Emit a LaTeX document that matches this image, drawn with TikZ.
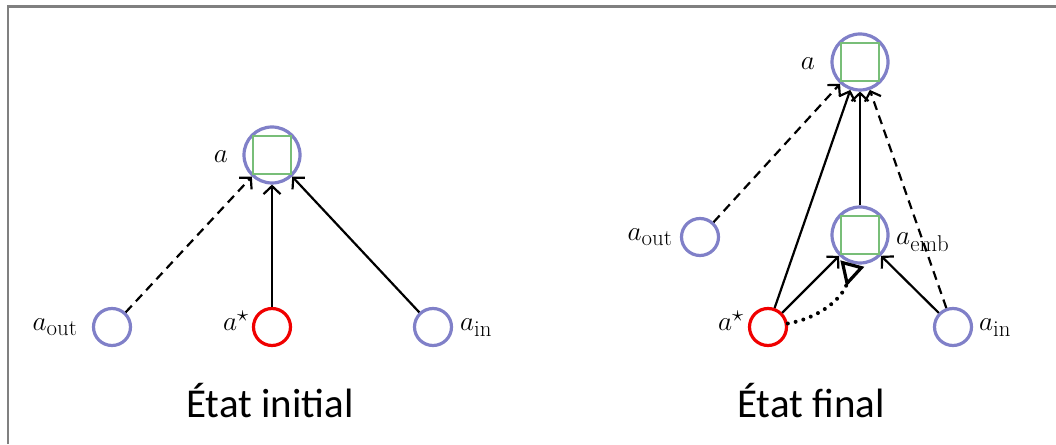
\documentclass[tikz,border=0pt]{standalone}
\usepackage{fontspec}
\usetikzlibrary{arrows.meta}
\newfontfamily\capfont{Carlito}
\definecolor{nodeblue}{RGB}{128,128,200}
\definecolor{sqgreen}{RGB}{120,190,120}
\definecolor{framegray}{RGB}{128,128,128}
\definecolor{nodered}{RGB}{240,0,0}
\newcommand{\bigmath}[1]{\scalebox{1.1}{$#1$}}
\begin{document}
\begin{tikzpicture}[x=1pt,y=1pt,
  bignode/.style={circle,draw=nodeblue,line width=3.2pt,minimum size=56pt,inner sep=0pt},
  sqnode/.style={rectangle,draw=sqgreen,line width=2.6pt,minimum size=38pt,inner sep=0pt},
  smallnode/.style={circle,draw=nodeblue,line width=3.2pt,minimum size=37pt,inner sep=0pt},
  rednode/.style={circle,draw=nodered,line width=3.2pt,minimum size=37pt,inner sep=0pt},
  lbl/.style={anchor=base,inner sep=0pt,font=\fontsize{24.88}{30}\selectfont},
  captext/.style={anchor=base,inner sep=0pt,font=\capfont\fontsize{41}{48}\selectfont},
  arr/.style={line width=2.2pt,-{Straight Barb[length=8pt,width=17pt,line width=2.2pt]}},
  dasharr/.style={arr,dash pattern=on 9pt off 6pt},
  dotarr/.style={line width=4pt,line cap=round,dash pattern=on 0pt off 8pt,
    -{Triangle[open,reversed,length=24pt,width=24pt,line width=3.2pt]}},
  frameline/.style={draw=framegray,line width=2.5pt}
]
\useasboundingbox (0,0) rectangle (1056,444);
\draw[frameline] (8,0) -- (8,437.5) -- (1056,437.5);

% ---- left: initial state
\node[bignode] (aL) at (272,289) {};
\node[sqnode] (sqL) at (272,289) {};
\node[smallnode] (aoutL) at (112,117) {};
\node[rednode] (astarL) at (272,117) {};
\node[smallnode] (ainL) at (433,117) {};
\node[lbl] (laL) at (221,281) {\bigmath{a}};
\node[lbl] (laoutL) at (55,113) {\bigmath{a_{\mathrm{out}}}};
\node[lbl] (lastarL) at (236,113) {\bigmath{a^{\star}}};
\node[lbl] (lainL) at (476,113) {\bigmath{a_{\mathrm{in}}}};
\draw[dasharr] (aoutL) -- (aL);
\draw[arr] (astarL) -- (aL);
\draw[arr] (ainL) -- (aL);
\node[captext] (capL) at (270,27) {État initial};

% ---- right: final state
\node[bignode] (aR) at (860,382) {};
\node[sqnode] (sqR) at (860,382) {};
\node[bignode] (aembR) at (860,209) {};
\node[sqnode] (sqembR) at (860,209) {};
\node[smallnode] (aoutR) at (700,207) {};
\node[rednode] (astarR) at (768,117) {};
\node[smallnode] (ainR) at (953,117) {};
\node[lbl] (laR) at (808,374) {\bigmath{a}};
\node[lbl] (laoutR) at (650,203) {\bigmath{a_{\mathrm{out}}}};
\node[lbl,anchor=base west] (laembR) at (896,199) {\bigmath{a_{\mathrm{emb}}}};
\node[lbl] (lastarR) at (731,113) {\bigmath{a^{\star}}};
\node[lbl] (lainR) at (995,113) {\bigmath{a_{\mathrm{in}}}};
\draw[dasharr] (aoutR) -- (aR);
\draw[arr] (astarR) -- (aR);
\draw[arr] (aembR) -- (aR);
\draw[dasharr] (ainR) -- (aR);
\draw[arr] (astarR) -- (aembR);
\draw[arr] (ainR) -- (aembR);
\draw[dotarr] (astarR) to[out=10,in=255] (aembR);
\node[captext] (capR) at (811,27) {État final};
\end{tikzpicture}
\end{document}
